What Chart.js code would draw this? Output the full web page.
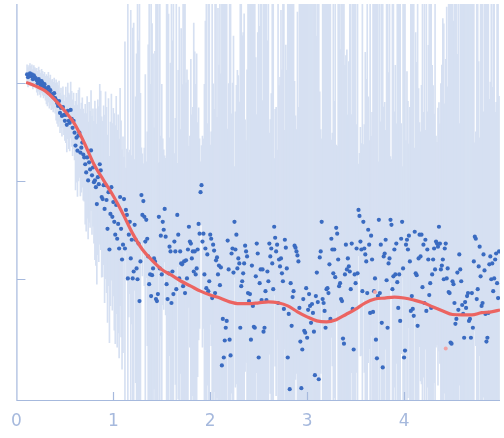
<!DOCTYPE html>
<html><head><meta charset="utf-8">
<script src="https://cdn.jsdelivr.net/npm/chart.js@4.4.1/dist/chart.umd.min.js"></script>
<style>html,body{margin:0;padding:0;background:#fff}canvas{display:block}</style>
</head><body>
<canvas id="c" width="504" height="438"></canvas>
<script>
// scattering vector (x)
const q = [
.11,.12,.13,.14,.15,.16,.17,.18,.19,.20,
.21,.22,.23,.24,.25,.26,.27,.28,.29,.30,
.31,.32,.33,.34,.35,.36,.37,.38,.39,.40,
.41,.42,.43,.44,.45,.46,.47,.48,.49,.50,
.51,.52,.53,.54,.55,.56,.57,.58,.59,.60,
.61,.62,.63,.64,.65,.66,.67,.68,.69,.70,
.71,.72,.73,.74,.75,.76,.77,.78,.79,.80,
.81,.82,.83,.84,.85,.86,.87,.88,.89,.90,
.91,.92,.93,.94,.95,.96,.97,.98,.99,1.00,
1.01,1.02,1.03,1.04,1.05,1.06,1.07,1.08,1.09,1.10,
1.11,1.12,1.13,1.14,1.15,1.16,1.17,1.18,1.19,1.20,
1.21,1.22,1.23,1.24,1.25,1.26,1.27,1.28,1.29,1.30,
1.31,1.32,1.33,1.34,1.35,1.36,1.37,1.38,1.39,1.40,
1.41,1.42,1.43,1.44,1.45,1.46,1.47,1.48,1.49,1.50,
1.51,1.52,1.53,1.54,1.55,1.56,1.57,1.58,1.59,1.60,
1.61,1.62,1.63,1.64,1.65,1.66,1.67,1.68,1.69,1.70,
1.71,1.72,1.73,1.74,1.75,1.76,1.77,1.78,1.79,1.80,
1.81,1.82,1.83,1.84,1.85,1.86,1.87,1.88,1.89,1.90,
1.91,1.92,1.93,1.94,1.95,1.96,1.97,1.98,1.99,2.00,
2.01,2.02,2.03,2.04,2.05,2.06,2.07,2.08,2.09,2.10,
2.11,2.12,2.13,2.14,2.15,2.16,2.17,2.18,2.19,2.20,
2.21,2.22,2.23,2.24,2.25,2.26,2.27,2.28,2.29,2.30,
2.31,2.32,2.33,2.34,2.35,2.36,2.37,2.38,2.39,2.40,
2.41,2.42,2.43,2.44,2.45,2.46,2.47,2.48,2.49,2.50,
2.51,2.52,2.53,2.54,2.55,2.56,2.57,2.58,2.59,2.60,
2.61,2.62,2.63,2.64,2.65,2.66,2.67,2.68,2.69,2.70,
2.71,2.72,2.73,2.74,2.75,2.76,2.77,2.78,2.79,2.80,
2.81,2.82,2.83,2.84,2.85,2.86,2.87,2.88,2.89,2.90,
2.91,2.92,2.93,2.94,2.95,2.96,2.97,2.98,2.99,3.00,
3.01,3.02,3.03,3.04,3.05,3.06,3.07,3.08,3.09,3.10,
3.11,3.12,3.13,3.14,3.15,3.16,3.17,3.18,3.19,3.20,
3.21,3.22,3.23,3.24,3.25,3.26,3.27,3.28,3.29,3.30,
3.31,3.32,3.33,3.34,3.35,3.36,3.37,3.38,3.39,3.40,
3.41,3.42,3.43,3.44,3.45,3.46,3.47,3.48,3.49,3.50,
3.51,3.52,3.53,3.54,3.55,3.56,3.57,3.58,3.59,3.60,
3.61,3.62,3.63,3.64,3.65,3.66,3.67,3.68,3.69,3.70,
3.71,3.72,3.73,3.74,3.75,3.76,3.77,3.78,3.79,3.80,
3.81,3.82,3.83,3.84,3.85,3.86,3.87,3.88,3.89,3.90,
3.91,3.92,3.93,3.94,3.95,3.96,3.97,3.98,3.99,4.00,
4.01,4.02,4.03,4.04,4.05,4.06,4.07,4.08,4.09,4.10,
4.11,4.12,4.13,4.14,4.15,4.16,4.17,4.18,4.19,4.20,
4.21,4.22,4.23,4.24,4.25,4.26,4.27,4.28,4.29,4.30,
4.31,4.32,4.33,4.34,4.35,4.36,4.37,4.38,4.39,4.40,
4.41,4.42,4.43,4.44,4.45,4.46,4.47,4.48,4.49,4.50,
4.51,4.52,4.53,4.54,4.55,4.56,4.57,4.58,4.59,4.60,
4.61,4.62,4.63,4.64,4.65,4.66,4.67,4.68,4.69,4.70,
4.71,4.72,4.73,4.74,4.75,4.76,4.77,4.78,4.79,4.80,
4.81,4.82,4.83,4.84,4.85,4.86,4.87,4.88,4.89,4.90,
4.91,4.92,4.93,4.94,4.95,4.96,4.97,4.98
];
// measured intensity
const intensity = [
1.23,1.15,1.20,1.26,1.18,1.23,1.10,1.20,1.15,1.12,
1.07,1.00,1.10,1.02,0.954,1.05,1.00,0.933,0.977,0.890,
0.870,0.830,0.911,0.792,0.850,0.756,0.774,0.722,0.792,0.706,
0.674,0.628,0.586,0.658,0.498,0.559,0.464,0.572,0.475,0.413,
0.475,0.376,0.522,0.413,0.394,0.534,0.433,0.351,0.413,0.313,
0.231,0.278,0.205,0.292,0.313,0.196,0.220,0.248,0.187,0.175,
0.149,0.123,0.175,0.102,0.156,0.132,0.206,0.115,0.138,0.0977,
0.102,0.0870,0.0585,0.110,0.0933,0.149,0.129,0.0690,0.0658,0.0911,
0.0522,0.0911,0.0643,0.0327,0.0774,0.0201,0.0464,0.0870,0.0433,0.0613,
0.0385,0.0285,0.0572,0.0259,0.0367,0.0206,0.0690,0.0327,0.0159,0.0225,
0.0658,0.0206,0.0510,0.0453,0.0102,0.0285,0.0385,0.0163,0.0253,0.0102,
0.0120,0.0359,0.0253,0.0129,0.0100,0.0231,0.00599,0.0152,0.0722,0.0453,
0.0628,0.0433,0.0242,0.0404,0.0259,0.0171,0.00890,0.0112,0.00674,0.0110,
0.0129,0.0163,0.0152,0.00628,0.00599,0.00706,0.0433,0.0129,0.0278,0.0112,
0.0385,0.0320,0.0522,0.0272,0.00890,0.00628,0.0115,0.0215,0.0192,0.00572,
0.0120,0.00706,0.0242,0.0192,0.00792,0.0453,0.0285,0.0102,0.0192,0.0145,
0.0142,0.00850,0.0152,0.00722,0.0156,0.0102,0.0201,0.0343,0.0242,0.0231,
0.0163,0.0192,0.0120,0.0192,0.0112,0.0129,0.0201,0.0367,0.0292,0.0774,
0.0911,0.0242,0.0292,0.0112,0.0206,0.00811,0.0179,0.00756,0.00954,0.0285,
0.0259,0.00643,0.0225,0.0196,0.00722,0.0156,0.0167,0.0112,0.0138,0.00870,
0.0132,0.00132,0.00394,0.00159,0.00237,0.00320,0.00376,0.0248,0.0126,0.00242,
0.00167,0.0183,0.0206,0.0117,0.0385,0.0201,0.0285,0.0129,0.0163,0.0145,
0.00320,0.00850,0.00954,0.0115,0.0145,0.0220,0.0192,0.0171,0.00722,0.00599,
0.00706,0.00242,0.0138,0.00534,0.00327,0.00320,0.0107,0.0231,0.0183,0.00159,
0.00911,0.0126,0.00613,0.0126,0.00292,0.00320,0.00756,0.00613,0.0120,0.00954,
0.0231,0.0171,0.0206,0.0145,0.00792,0.0343,0.0265,0.0192,0.0225,0.00572,
0.0159,0.0135,0.0163,0.0115,0.00954,0.00498,0.0253,0.0210,0.0129,0.00159,
0.00443,0.000756,0.00911,0.00335,0.00658,0.00756,0.0220,0.0210,0.0192,0.0175,
0.0152,0.00510,0.00231,0.000774,0.00192,0.00628,0.00298,0.00285,0.00811,0.00253,
0.00487,0.00706,0.00534,0.00359,0.00559,0.00453,0.00292,0.00105,0.00674,0.0117,
0.00585,0.000954,0.0167,0.0192,0.0385,0.00628,0.00572,0.00475,0.00320,0.00792,
0.00811,0.00722,0.0142,0.00394,0.0259,0.0201,0.0115,0.0201,0.0105,0.0335,
0.0292,0.0159,0.00850,0.00911,0.00628,0.00599,0.00248,0.00220,0.0112,0.0225,
0.0126,0.0163,0.0135,0.0120,0.00792,0.0231,0.00498,0.00192,0.0112,0.00911,
0.0206,0.0115,0.0510,0.0443,0.0242,0.0201,0.00756,0.0385,0.0206,0.0179,
0.0152,0.00722,0.0320,0.0225,0.00453,0.0278,0.0159,0.00464,0.00756,0.0102,
0.00242,0.00156,0.00674,0.0404,0.00722,0.0225,0.00359,0.00126,0.0171,0.0183,
0.0253,0.00977,0.00320,0.0145,0.0163,0.0404,0.0359,0.00792,0.0107,0.0201,
0.0112,0.0231,0.00933,0.00510,0.0112,0.00376,0.0259,0.0385,0.0129,0.00159,
0.00187,0.0225,0.0253,0.0201,0.0278,0.0152,0.00475,0.00674,0.00498,0.00423,
0.0305,0.0115,0.0110,0.00335,0.0163,0.0285,0.0171,0.0285,0.00830,0.0225,
0.00572,0.0253,0.00475,0.0201,0.0159,0.00690,0.00911,0.00510,0.0112,0.0159,
0.0206,0.0126,0.0242,0.0231,0.0215,0.0343,0.0231,0.0126,0.0138,0.0159,
0.0100,0.0206,0.0231,0.0102,0.0129,0.00739,0.00722,0.00226,0.00220,0.00954,
0.00890,0.00572,0.00351,0.00394,0.0117,0.00487,0.0179,0.0126,0.00954,0.00546,
0.00443,0.00253,0.00585,0.00510,0.00674,0.00722,0.00376,0.00394,0.00253,0.00722,
0.00320,0.0152,0.0272,0.0259,0.00628,0.00792,0.0135,0.0215,0.0107,0.00534,
0.00572,0.0179,0.0123,0.00443,0.00231,0.00253,0.00453,0.0142,0.0171,0.0100,
0.0145,0.00756,0.0102,0.0159,0.0183,0.00911,0.00643,0.0192
];
// experimental error (sigma, same units as intensity)
const sigma = [
0.28,0.26,0.28,0.29,0.27,0.28,0.25,0.28,0.26,0.26,
0.3,0.28,0.31,0.29,0.27,0.29,0.28,0.26,0.27,0.25,
0.3,0.29,0.32,0.28,0.3,0.26,0.27,0.25,0.28,0.25,
0.32,0.3,0.28,0.31,0.23,0.26,0.22,0.27,0.22,0.19,
0.31,0.24,0.34,0.27,0.26,0.35,0.28,0.23,0.27,0.2,
0.24,0.29,0.22,0.31,0.33,0.2,0.23,0.26,0.2,0.18,
0.21,0.17,0.25,0.14,0.22,0.18,0.29,0.16,0.19,0.14,
0.19,0.16,0.11,0.2,0.17,0.28,0.24,0.13,0.12,0.17,
0.115,0.2,0.14,0.072,0.17,0.044,0.1,0.19,0.095,0.135,
0.098,0.073,0.146,0.066,0.094,0.053,0.176,0.083,0.041,0.057,
0.065,0.1,0.05,0.07,0.08,0.055,0.065,0.095,0.05,0.06,
0.07,0.055,0.085,0.065,0.065,0.11,0.05,0.06,0.08,0.065,
0.055,0.07,0.095,0.055,0.065,0.085,0.06,0.05,0.1,0.065,
0.065,0.05,0.075,0.09,0.055,0.065,0.055,0.1,0.065,0.05,
0.075,0.06,0.065,0.05,0.1,0.065,0.07,0.055,0.085,0.06,
0.065,0.095,0.05,0.06,0.075,0.055,0.11,0.065,0.055,0.08,
0.06,0.07,0.1,0.055,0.065,0.05,0.08,0.065,0.06,0.1,
0.055,0.065,0.07,0.09,0.05,0.065,0.06,0.1,0.065,0.055,
0.085,0.06,0.065,0.05,0.11,0.065,0.055,0.075,0.095,0.06,
0.065,0.05,0.085,0.065,0.06,0.1,0.055,0.07,0.065,0.08,
0.06,0.1,0.055,0.07,0.05,0.095,0.065,0.065,0.055,0.11,
0.065,0.06,0.08,0.065,0.05,0.065,0.1,0.06,0.07,0.055,
0.1,0.06,0.055,0.065,0.085,0.065,0.05,0.075,0.1,0.06,
0.065,0.055,0.11,0.065,0.06,0.08,0.055,0.07,0.095,0.065,
0.055,0.1,0.065,0.05,0.065,0.09,0.07,0.06,0.065,0.1,
0.06,0.055,0.075,0.1,0.065,0.055,0.08,0.065,0.05,0.11,
0.065,0.06,0.095,0.055,0.07,0.055,0.065,0.1,0.06,0.075,
0.065,0.07,0.1,0.05,0.065,0.06,0.085,0.065,0.055,0.1,
0.055,0.07,0.065,0.11,0.06,0.065,0.05,0.095,0.065,0.06,
0.1,0.065,0.055,0.07,0.085,0.06,0.065,0.1,0.055,0.065,
0.06,0.095,0.065,0.055,0.075,0.1,0.065,0.05,0.07,0.09,
0.065,0.055,0.11,0.065,0.06,0.055,0.08,0.07,0.1,0.065,
0.06,0.1,0.065,0.05,0.065,0.09,0.06,0.07,0.055,0.1,
0.065,0.055,0.065,0.095,0.06,0.07,0.08,0.055,0.11,0.065,
0.06,0.1,0.055,0.065,0.065,0.05,0.1,0.07,0.06,0.085,
0.065,0.07,0.1,0.055,0.06,0.065,0.055,0.095,0.065,0.075,
0.11,0.06,0.065,0.055,0.08,0.065,0.07,0.1,0.06,0.065,
0.065,0.09,0.055,0.065,0.1,0.06,0.055,0.07,0.1,0.065,
0.055,0.065,0.08,0.065,0.11,0.06,0.07,0.05,0.095,0.065,
0.065,0.055,0.1,0.07,0.06,0.055,0.085,0.065,0.065,0.1,
0.06,0.065,0.055,0.095,0.065,0.075,0.05,0.1,0.06,0.07,
0.11,0.065,0.06,0.065,0.08,0.06,0.07,0.1,0.055,0.065,
0.065,0.095,0.06,0.055,0.07,0.1,0.065,0.055,0.065,0.09,
0.06,0.07,0.1,0.065,0.055,0.065,0.085,0.06,0.11,0.065,
0.055,0.065,0.065,0.1,0.06,0.07,0.055,0.095,0.065,0.06,
0.1,0.065,0.055,0.065,0.08,0.06,0.07,0.1,0.065,0.055,
0.065,0.11,0.06,0.065,0.055,0.095,0.065,0.055,0.07,0.1,
0.065,0.06,0.085,0.065,0.06,0.1,0.065,0.055,0.07,0.1,
0.06,0.065,0.095,0.055,0.065,0.11,0.06,0.07
];
// model fit curve
const fitQ = [0.10,0.20,0.30,0.40,0.50,0.60,0.70,0.80,0.90,1.00,1.10,1.20,1.30,1.40,1.50,1.60,1.70,1.80,1.90,2.00,
  2.10,2.20,2.30,2.40,2.50,2.60,2.70,2.80,2.90,3.00,3.10,3.20,3.30,3.40,3.50,3.60,3.70,3.80,3.90,4.00,
  4.10,4.20,4.30,4.40,4.50,4.60,4.70,4.80,4.90,4.99];
const fitI = [1.02,0.933,0.830,0.673,0.521,0.385,0.247,0.149,0.102,0.0706,0.0464,0.0292,0.0201,0.0156,0.0126,0.0110,0.00954,0.00850,0.00756,0.00690,
  0.00643,0.00588,0.00563,0.00563,0.00575,0.00588,0.00575,0.00535,0.00465,0.00413,0.00376,0.00367,0.00387,0.00437,0.00495,0.00575,0.00628,0.00643,0.00658,0.00643,
  0.00613,0.00575,0.00521,0.00475,0.00437,0.00433,0.00433,0.00456,0.00465,0.00486];
// two faint highlighted points
const markQ = [3.70, 4.43];
const markI = [0.00739, 0.00196];

const xTickValues = [0, 1, 2, 3, 4];
const yTickValues = [1, 0.1, 0.01];
const xRange = [0, 4.99];
const yRange = [5.86e-4, 6.43];

const axisColor = '#a6b9dd';
const barColor = '#d6e0f2';
const pointColor = '#3a6bc1';
const fitColor = '#ec6461';

// error bars on the log axis: log10(I) +/- sigma/(I ln10)
const bars = q.map((x, i) => {
  const e = sigma[i] / (intensity[i] * Math.LN10);
  return {x, y: [intensity[i] * Math.pow(10, -e), intensity[i] * Math.pow(10, e)]};
});
const pts = q.map((x, i) => ({x, y: intensity[i]}));
const fit = fitQ.map((x, i) => ({x, y: fitI[i]}));
const marks = markQ.map((x, i) => ({x, y: markI[i]}));

const axesPlugin = {
  id: 'axesPlugin',
  afterDraw(chart) {
    const {ctx, chartArea: a, scales: {x, y}} = chart;
    ctx.save();
    ctx.strokeStyle = axisColor;
    ctx.lineWidth = 1.2;
    ctx.beginPath();
    ctx.moveTo(a.left + 0.5, a.top);
    ctx.lineTo(a.left + 0.5, a.bottom + 0.5);
    ctx.lineTo(a.right, a.bottom + 0.5);
    yTickValues.forEach(v => {
      const py = Math.round(y.getPixelForValue(v)) + 0.5;
      ctx.moveTo(a.left, py); ctx.lineTo(a.left + 9, py);
    });
    xTickValues.forEach(v => {
      if (v === xRange[0]) return;
      const px = Math.round(x.getPixelForValue(v)) + 0.5;
      ctx.moveTo(px, a.bottom); ctx.lineTo(px, a.bottom - 8);
    });
    ctx.stroke();
    ctx.restore();
  }
};

new Chart(document.getElementById('c'), {
  type: 'scatter',
  data: {
    datasets: [
      {type: 'bar', data: bars, backgroundColor: barColor, borderWidth: 0, barThickness: 1, order: 4, grouped: false},
      {type: 'scatter', data: pts, backgroundColor: pointColor, borderWidth: 0, pointRadius: 2.1, pointStyle: 'circle', order: 3},
      {type: 'scatter', data: marks, backgroundColor: '#f2a3a3', borderWidth: 0, pointRadius: 2, order: 2},
      {type: 'line', data: fit, borderColor: fitColor, borderWidth: 3.2, pointRadius: 0, fill: false, cubicInterpolationMode: 'monotone', order: 1}
    ]
  },
  options: {
    responsive: false,
    animation: false,
    events: [],
    layout: {padding: {left: 5, right: 0, top: 0, bottom: 0}},
    plugins: {legend: {display: false}, tooltip: {enabled: false}},
    scales: {
      x: {
        type: 'linear', min: xRange[0], max: xRange[1], offset: false,
        grid: {display: false, drawTicks: false},
        border: {display: false},
        afterBuildTicks: s => { s.ticks = xTickValues.map(v => ({value: v})); },
        afterFit: s => { s.height = 38; },
        ticks: {color: axisColor, font: {family: 'DejaVu Sans', size: 17}, padding: 11, maxRotation: 0, autoSkip: false}
      },
      y: {
        type: 'logarithmic', min: yRange[0], max: yRange[1], display: false,
        afterBuildTicks: s => { s.ticks = yTickValues.map(v => ({value: v})); }
      }
    }
  },
  plugins: [axesPlugin]
});
</script>
</body></html>
